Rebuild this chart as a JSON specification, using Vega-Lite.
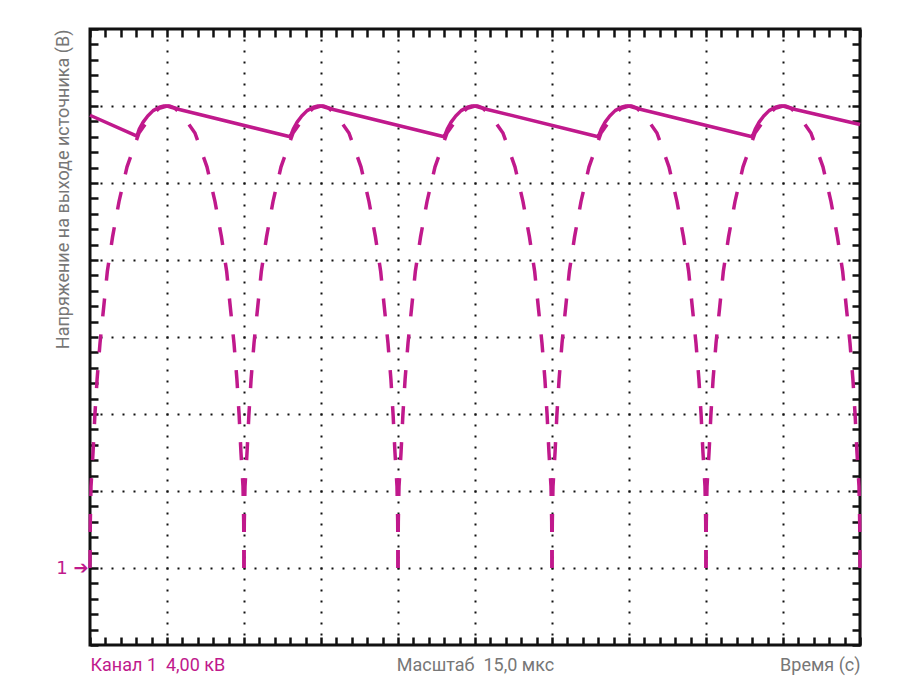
{
  "$schema": "https://vega.github.io/schema/vega-lite/v6.json",
  "width": 770,
  "height": 616,
  "autosize": "none",
  "padding": {"left": 90, "top": 29, "right": 54, "bottom": 52},
  "background": "white",
  "config": {
    "view": {"stroke": "#111111", "strokeWidth": 3},
    "font": "Roboto, sans-serif"
  },
  "datasets": {
    "arch": [
      {"b":"r0","i":0,"t":0,"v":1},{"b":"r0","i":1,"t":0.004,"v":1.6},{"b":"r0","i":2,"t":0.013,"v":2.06},{"b":"r0","i":3,"t":0.04,"v":2.51},{"b":"r0","i":4,"t":0.063,"v":2.98},{"b":"r0","i":5,"t":0.092,"v":3.45},{"b":"r0","i":6,"t":0.13,"v":3.92},{"b":"r0","i":7,"t":0.178,"v":4.39},{"b":"r0","i":8,"t":0.225,"v":4.85},{"b":"r0","i":9,"t":0.293,"v":5.3},{"b":"r0","i":10,"t":0.377,"v":5.76},{"b":"r0","i":11,"t":0.481,"v":6.21},{"b":"r0","i":12,"t":0.637,"v":6.65},{"b":"r0","i":13,"t":0.8,"v":6.88},{"b":"r0","i":14,"t":0.9,"v":6.97},{"b":"r0","i":15,"t":1,"v":7},
      {"b":"f0","i":0,"t":2,"v":1},{"b":"f0","i":1,"t":1.996,"v":1.6},{"b":"f0","i":2,"t":1.987,"v":2.06},{"b":"f0","i":3,"t":1.96,"v":2.51},{"b":"f0","i":4,"t":1.937,"v":2.98},{"b":"f0","i":5,"t":1.908,"v":3.45},{"b":"f0","i":6,"t":1.87,"v":3.92},{"b":"f0","i":7,"t":1.822,"v":4.39},{"b":"f0","i":8,"t":1.775,"v":4.85},{"b":"f0","i":9,"t":1.707,"v":5.3},{"b":"f0","i":10,"t":1.623,"v":5.76},{"b":"f0","i":11,"t":1.519,"v":6.21},{"b":"f0","i":12,"t":1.363,"v":6.65},{"b":"f0","i":13,"t":1.2,"v":6.88},{"b":"f0","i":14,"t":1.1,"v":6.97},{"b":"f0","i":15,"t":1,"v":7},
      {"b":"r1","i":0,"t":2,"v":1},{"b":"r1","i":1,"t":2.004,"v":1.6},{"b":"r1","i":2,"t":2.013,"v":2.06},{"b":"r1","i":3,"t":2.04,"v":2.51},{"b":"r1","i":4,"t":2.063,"v":2.98},{"b":"r1","i":5,"t":2.092,"v":3.45},{"b":"r1","i":6,"t":2.13,"v":3.92},{"b":"r1","i":7,"t":2.178,"v":4.39},{"b":"r1","i":8,"t":2.225,"v":4.85},{"b":"r1","i":9,"t":2.293,"v":5.3},{"b":"r1","i":10,"t":2.377,"v":5.76},{"b":"r1","i":11,"t":2.481,"v":6.21},{"b":"r1","i":12,"t":2.637,"v":6.65},{"b":"r1","i":13,"t":2.8,"v":6.88},{"b":"r1","i":14,"t":2.9,"v":6.97},{"b":"r1","i":15,"t":3,"v":7},
      {"b":"f1","i":0,"t":4,"v":1},{"b":"f1","i":1,"t":3.996,"v":1.6},{"b":"f1","i":2,"t":3.987,"v":2.06},{"b":"f1","i":3,"t":3.96,"v":2.51},{"b":"f1","i":4,"t":3.937,"v":2.98},{"b":"f1","i":5,"t":3.908,"v":3.45},{"b":"f1","i":6,"t":3.87,"v":3.92},{"b":"f1","i":7,"t":3.822,"v":4.39},{"b":"f1","i":8,"t":3.775,"v":4.85},{"b":"f1","i":9,"t":3.707,"v":5.3},{"b":"f1","i":10,"t":3.623,"v":5.76},{"b":"f1","i":11,"t":3.519,"v":6.21},{"b":"f1","i":12,"t":3.363,"v":6.65},{"b":"f1","i":13,"t":3.2,"v":6.88},{"b":"f1","i":14,"t":3.1,"v":6.97},{"b":"f1","i":15,"t":3,"v":7},
      {"b":"r2","i":0,"t":4,"v":1},{"b":"r2","i":1,"t":4.004,"v":1.6},{"b":"r2","i":2,"t":4.013,"v":2.06},{"b":"r2","i":3,"t":4.04,"v":2.51},{"b":"r2","i":4,"t":4.063,"v":2.98},{"b":"r2","i":5,"t":4.092,"v":3.45},{"b":"r2","i":6,"t":4.13,"v":3.92},{"b":"r2","i":7,"t":4.178,"v":4.39},{"b":"r2","i":8,"t":4.225,"v":4.85},{"b":"r2","i":9,"t":4.293,"v":5.3},{"b":"r2","i":10,"t":4.377,"v":5.76},{"b":"r2","i":11,"t":4.481,"v":6.21},{"b":"r2","i":12,"t":4.637,"v":6.65},{"b":"r2","i":13,"t":4.8,"v":6.88},{"b":"r2","i":14,"t":4.9,"v":6.97},{"b":"r2","i":15,"t":5,"v":7},
      {"b":"f2","i":0,"t":6,"v":1},{"b":"f2","i":1,"t":5.996,"v":1.6},{"b":"f2","i":2,"t":5.987,"v":2.06},{"b":"f2","i":3,"t":5.96,"v":2.51},{"b":"f2","i":4,"t":5.937,"v":2.98},{"b":"f2","i":5,"t":5.908,"v":3.45},{"b":"f2","i":6,"t":5.87,"v":3.92},{"b":"f2","i":7,"t":5.822,"v":4.39},{"b":"f2","i":8,"t":5.775,"v":4.85},{"b":"f2","i":9,"t":5.707,"v":5.3},{"b":"f2","i":10,"t":5.623,"v":5.76},{"b":"f2","i":11,"t":5.519,"v":6.21},{"b":"f2","i":12,"t":5.363,"v":6.65},{"b":"f2","i":13,"t":5.2,"v":6.88},{"b":"f2","i":14,"t":5.1,"v":6.97},{"b":"f2","i":15,"t":5,"v":7},
      {"b":"r3","i":0,"t":6,"v":1},{"b":"r3","i":1,"t":6.004,"v":1.6},{"b":"r3","i":2,"t":6.013,"v":2.06},{"b":"r3","i":3,"t":6.04,"v":2.51},{"b":"r3","i":4,"t":6.063,"v":2.98},{"b":"r3","i":5,"t":6.092,"v":3.45},{"b":"r3","i":6,"t":6.13,"v":3.92},{"b":"r3","i":7,"t":6.178,"v":4.39},{"b":"r3","i":8,"t":6.225,"v":4.85},{"b":"r3","i":9,"t":6.293,"v":5.3},{"b":"r3","i":10,"t":6.377,"v":5.76},{"b":"r3","i":11,"t":6.481,"v":6.21},{"b":"r3","i":12,"t":6.637,"v":6.65},{"b":"r3","i":13,"t":6.8,"v":6.88},{"b":"r3","i":14,"t":6.9,"v":6.97},{"b":"r3","i":15,"t":7,"v":7},
      {"b":"f3","i":0,"t":8,"v":1},{"b":"f3","i":1,"t":7.996,"v":1.6},{"b":"f3","i":2,"t":7.987,"v":2.06},{"b":"f3","i":3,"t":7.96,"v":2.51},{"b":"f3","i":4,"t":7.937,"v":2.98},{"b":"f3","i":5,"t":7.908,"v":3.45},{"b":"f3","i":6,"t":7.87,"v":3.92},{"b":"f3","i":7,"t":7.822,"v":4.39},{"b":"f3","i":8,"t":7.775,"v":4.85},{"b":"f3","i":9,"t":7.707,"v":5.3},{"b":"f3","i":10,"t":7.623,"v":5.76},{"b":"f3","i":11,"t":7.519,"v":6.21},{"b":"f3","i":12,"t":7.363,"v":6.65},{"b":"f3","i":13,"t":7.2,"v":6.88},{"b":"f3","i":14,"t":7.1,"v":6.97},{"b":"f3","i":15,"t":7,"v":7},
      {"b":"r4","i":0,"t":8,"v":1},{"b":"r4","i":1,"t":8.004,"v":1.6},{"b":"r4","i":2,"t":8.013,"v":2.06},{"b":"r4","i":3,"t":8.04,"v":2.51},{"b":"r4","i":4,"t":8.063,"v":2.98},{"b":"r4","i":5,"t":8.092,"v":3.45},{"b":"r4","i":6,"t":8.13,"v":3.92},{"b":"r4","i":7,"t":8.178,"v":4.39},{"b":"r4","i":8,"t":8.225,"v":4.85},{"b":"r4","i":9,"t":8.293,"v":5.3},{"b":"r4","i":10,"t":8.377,"v":5.76},{"b":"r4","i":11,"t":8.481,"v":6.21},{"b":"r4","i":12,"t":8.637,"v":6.65},{"b":"r4","i":13,"t":8.8,"v":6.88},{"b":"r4","i":14,"t":8.9,"v":6.97},{"b":"r4","i":15,"t":9,"v":7},
      {"b":"f4","i":0,"t":10,"v":1},{"b":"f4","i":1,"t":9.996,"v":1.6},{"b":"f4","i":2,"t":9.987,"v":2.06},{"b":"f4","i":3,"t":9.96,"v":2.51},{"b":"f4","i":4,"t":9.937,"v":2.98},{"b":"f4","i":5,"t":9.908,"v":3.45},{"b":"f4","i":6,"t":9.87,"v":3.92},{"b":"f4","i":7,"t":9.822,"v":4.39},{"b":"f4","i":8,"t":9.775,"v":4.85},{"b":"f4","i":9,"t":9.707,"v":5.3},{"b":"f4","i":10,"t":9.623,"v":5.76},{"b":"f4","i":11,"t":9.519,"v":6.21},{"b":"f4","i":12,"t":9.363,"v":6.65},{"b":"f4","i":13,"t":9.2,"v":6.88},{"b":"f4","i":14,"t":9.1,"v":6.97},{"b":"f4","i":15,"t":9,"v":7}
    ],
    "ripple": [
      {"t":0,"v":6.88},{"t":0.61,"v":6.61},{"t":0.64,"v":6.7},{"t":0.69,"v":6.79},{"t":0.75,"v":6.87},{"t":0.82,"v":6.94},{"t":0.9,"v":6.985},{"t":0.96,"v":7},{"t":1.03,"v":7},{"t":1.1,"v":6.975},{"t":1.16,"v":6.955},
      {"t":2.6,"v":6.6},{"t":2.64,"v":6.7},{"t":2.69,"v":6.79},{"t":2.75,"v":6.87},{"t":2.82,"v":6.94},{"t":2.9,"v":6.985},{"t":2.96,"v":7},{"t":3.03,"v":7},{"t":3.1,"v":6.975},{"t":3.16,"v":6.955},
      {"t":4.6,"v":6.6},{"t":4.64,"v":6.7},{"t":4.69,"v":6.79},{"t":4.75,"v":6.87},{"t":4.82,"v":6.94},{"t":4.9,"v":6.985},{"t":4.96,"v":7},{"t":5.03,"v":7},{"t":5.1,"v":6.975},{"t":5.16,"v":6.955},
      {"t":6.6,"v":6.6},{"t":6.64,"v":6.7},{"t":6.69,"v":6.79},{"t":6.75,"v":6.87},{"t":6.82,"v":6.94},{"t":6.9,"v":6.985},{"t":6.96,"v":7},{"t":7.03,"v":7},{"t":7.1,"v":6.975},{"t":7.16,"v":6.955},
      {"t":8.6,"v":6.6},{"t":8.64,"v":6.7},{"t":8.69,"v":6.79},{"t":8.75,"v":6.87},{"t":8.82,"v":6.94},{"t":8.9,"v":6.985},{"t":8.96,"v":7},{"t":9.03,"v":7},{"t":9.1,"v":6.975},{"t":9.16,"v":6.955},
      {"t":10,"v":6.76}
    ]
  },
  "layer": [
    {
      "data": {"name": "arch"},
      "mark": {"type": "line", "color": "#c0198c", "strokeWidth": 3.5, "strokeDash": [18, 18], "strokeCap": "butt", "interpolate": "linear"},
      "encoding": {
        "x": {
          "field": "t", "type": "quantitative",
          "scale": {"domain": [0, 10], "nice": false, "zero": false},
          "axis": {
            "orient": "bottom",
            "values": [0,0.2,0.4,0.6,0.8,1,1.2,1.4,1.6,1.8,2,2.2,2.4,2.6,2.8,3,3.2,3.4,3.6,3.8,4,4.2,4.4,4.6,4.8,5,5.2,5.4,5.6,5.8,6,6.2,6.4,6.6,6.8,7,7.2,7.4,7.6,7.8,8,8.2,8.4,8.6,8.8,9,9.2,9.4,9.6,9.8,10],
            "domain": false,
            "tickSize": -8, "tickWidth": 2.5, "tickColor": "#111111",
            "grid": true, "gridColor": "#111111", "gridWidth": 2, "gridDash": [2, 9], "gridDashOffset": 1,
            "gridOpacity": {"condition": {"test": "datum.value % 1 == 0 && datum.value > 0 && datum.value < 10", "value": 1}, "value": 0},
            "labelExpr": "datum.value == 0 ? 'Канал 1\u00a0 4,00 кВ' : datum.value == 5 ? 'Масштаб\u00a0 15,0 мкс' : datum.value == 10 ? 'Время (с)' : ''",
            "labelOverlap": false, "labelBound": false, "labelFlush": true,
            "labelFont": "Roboto", "labelFontSize": 18, "labelPadding": 19,
            "labelColor": {"condition": {"test": "datum.value == 0", "value": "#c0198c"}, "value": "#777777"},
            "title": null
          }
        },
        "y": {
          "field": "v", "type": "quantitative",
          "scale": {"domain": [0, 8], "nice": false, "zero": false},
          "axis": {
            "orient": "left",
            "values": [0,0.2,0.4,0.6,0.8,1,1.2,1.4,1.6,1.8,2,2.2,2.4,2.6,2.8,3,3.2,3.4,3.6,3.8,4,4.2,4.4,4.6,4.8,5,5.2,5.4,5.6,5.8,6,6.2,6.4,6.6,6.8,7,7.2,7.4,7.6,7.8,8],
            "domain": false,
            "tickSize": -8, "tickWidth": 2.5, "tickColor": "#111111",
            "grid": true, "gridColor": "#111111", "gridWidth": 2, "gridDash": [2, 9], "gridDashOffset": 1,
            "gridOpacity": {"condition": {"test": "datum.value % 1 == 0 && datum.value > 0 && datum.value < 8", "value": 1}, "value": 0},
            "labelExpr": "datum.value == 1 ? '1 ➔' : ''",
            "labelOverlap": false, "labelBound": false, "labelFlush": false,
            "labelFont": "DejaVu Sans", "labelFontSize": 18, "labelPadding": 10, "labelColor": "#c0198c",
            "title": "Напряжение на выходе источника (В)",
            "titleFont": "Roboto",
            "titleAnchor": "end", "titleColor": "#777777", "titleFontSize": 18, "titleFontWeight": "normal",
            "titlePadding": -17
          }
        },
        "detail": {"field": "b"},
        "order": {"field": "i"}
      }
    },
    {
      "data": {"name": "ripple"},
      "mark": {"type": "line", "color": "#c0198c", "strokeWidth": 3.5, "interpolate": "linear", "strokeJoin": "round"},
      "encoding": {
        "x": {
          "field": "t", "type": "quantitative",
          "scale": {"domain": [0, 10], "nice": false, "zero": false},
          "axis": {
            "orient": "top",
            "values": [0,0.2,0.4,0.6,0.8,1,1.2,1.4,1.6,1.8,2,2.2,2.4,2.6,2.8,3,3.2,3.4,3.6,3.8,4,4.2,4.4,4.6,4.8,5,5.2,5.4,5.6,5.8,6,6.2,6.4,6.6,6.8,7,7.2,7.4,7.6,7.8,8,8.2,8.4,8.6,8.8,9,9.2,9.4,9.6,9.8,10],
            "domain": false, "labels": false, "grid": false, "title": null,
            "tickSize": -8, "tickWidth": 2.5, "tickColor": "#111111"
          }
        },
        "y": {
          "field": "v", "type": "quantitative",
          "scale": {"domain": [0, 8], "nice": false, "zero": false},
          "axis": {
            "orient": "right",
            "values": [0,0.2,0.4,0.6,0.8,1,1.2,1.4,1.6,1.8,2,2.2,2.4,2.6,2.8,3,3.2,3.4,3.6,3.8,4,4.2,4.4,4.6,4.8,5,5.2,5.4,5.6,5.8,6,6.2,6.4,6.6,6.8,7,7.2,7.4,7.6,7.8,8],
            "domain": false, "labels": false, "grid": false, "title": null,
            "tickSize": -8, "tickWidth": 2.5, "tickColor": "#111111"
          }
        }
      }
    }
  ],
  "resolve": {"axis": {"x": "independent", "y": "independent"}}
}
